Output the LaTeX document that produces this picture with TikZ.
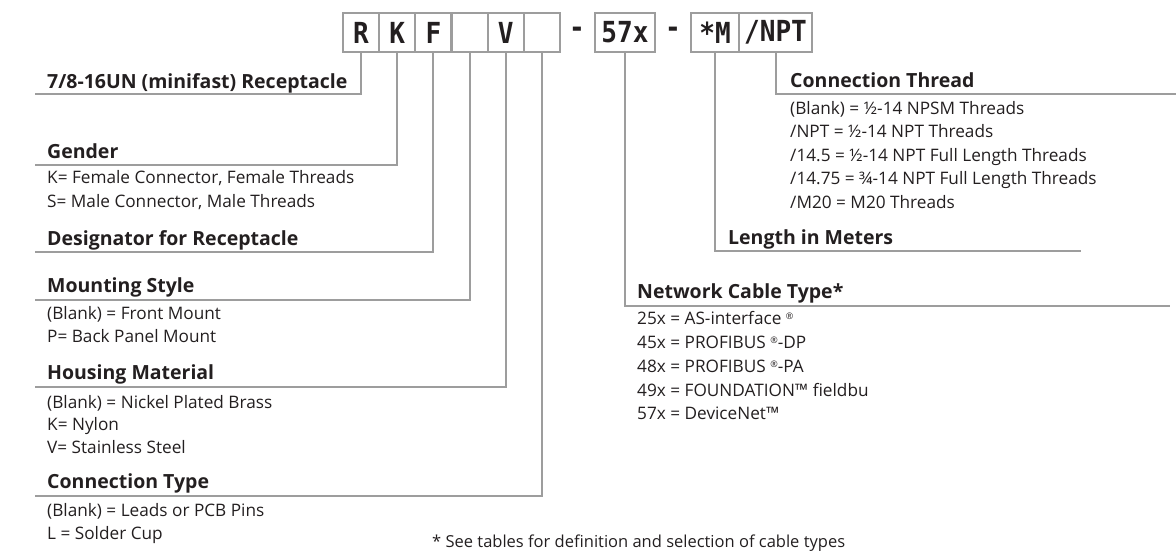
\documentclass[tikz,border=0pt]{standalone}
\usepackage{graphicx}
\usepackage{fontspec}
\setmainfont{Open Sans}
\newfontfamily\boxfont{DejaVu Sans Mono}
\definecolor{lg}{HTML}{9D9D9D}
\definecolor{tx}{HTML}{231F20}
\newcommand{\cellt}[1]{\scalebox{0.9}[1]{#1}}
\newcommand{\regm}{\raisebox{5pt}{\fontsize{9}{9}\selectfont ®}}
\begin{document}
\begin{tikzpicture}[x=1pt,y=-1pt,
  ln/.style={draw=lg, line width=2pt},
  cell/.style={draw=lg, line width=2pt, minimum height=38.4pt, inner sep=0pt,
    font=\boxfont\bfseries\fontsize{29}{29}\selectfont, text=tx},
  hdr/.style={anchor=base west, inner sep=0pt, font=\bfseries\fontsize{19.5}{22}\selectfont, text=tx},
  bd/.style={anchor=base west, inner sep=0pt, font=\fontsize{17.2}{20}\selectfont, text=tx},
  note/.style={anchor=base west, inner sep=0pt, font=\fontsize{16.5}{18}\selectfont, text=tx},
  dsh/.style={inner sep=0pt, font=\boxfont\bfseries\fontsize{29}{29}\selectfont, text=tx}]
\useasboundingbox (0,0) rectangle (1176,552);
% code boxes
\node[cell, minimum width=36.17pt] (R)  at (361.1,32.5) {\cellt{R}};
\node[cell, minimum width=36.17pt] (K)  at (397.3,32.5) {\cellt{K}};
\node[cell, minimum width=36.17pt] (F)  at (433.4,32.5) {\cellt{F}};
\node[cell, minimum width=36.17pt] (B1) at (469.6,32.5) {};
\node[cell, minimum width=36.17pt] (V)  at (505.8,32.5) {\cellt{V}};
\node[cell, minimum width=36.17pt] (B2) at (541.9,32.5) {};
\node[dsh] (d1) at (577,32.5) {\cellt{-}};
\node[cell, minimum width=60pt] (C57) at (625,32.5) {\cellt{57x}};
\node[dsh] (d2) at (673,32.5) {\cellt{-}};
\node[cell, minimum width=48pt] (SM) at (715,32.5) {\cellt{*M}};
\node[cell, minimum width=73pt] (NPT) at (775.5,32.5) {\cellt{/NPT}};
% rule end points
\coordinate (e1) at (35,94);
\coordinate (e2) at (35,165);
\coordinate (e3) at (35,252);
\coordinate (e4) at (35,299.5);
\coordinate (e5) at (35,387);
\coordinate (e6) at (35,495.5);
\coordinate (e7) at (1176,94);
\coordinate (e8) at (1081,251);
\coordinate (e9) at (1170,305.5);
% connectors
\draw[ln] (R.south) |- (e1);
\draw[ln] (K.south) |- (e2);
\draw[ln] (F.south) |- (e3);
\draw[ln] (B1.south) |- (e4);
\draw[ln] (V.south) |- (e5);
\draw[ln] (B2.south) |- (e6);
\draw[ln] (NPT.south) |- (e7);
\draw[ln] (SM.south) |- (e8);
\draw[ln] (C57.south) |- (e9);
% left labels
\node[hdr] (h1) at (47,88) {7/8-16UN (minifast) Receptacle};
\node[hdr] (h2) at (47,158) {Gender};
\node[bd] (g1) at (47,183.5) {K= Female Connector, Female Threads};
\node[bd] (g2) at (47,207.5) {S= Male Connector, Male Threads};
\node[hdr] (h3) at (47,245) {Designator for Receptacle};
\node[hdr] (h4) at (47,292.5) {Mounting Style};
\node[bd] (m1) at (47,319) {(Blank) = Front Mount};
\node[bd] (m2) at (47,342) {P= Back Panel Mount};
\node[hdr] (h5) at (47,379.5) {Housing Material};
\node[bd] (hm1) at (47,408) {(Blank) = Nickel Plated Brass};
\node[bd] (hm2) at (47,430.5) {K= Nylon};
\node[bd] (hm3) at (47,453) {V= Stainless Steel};
\node[hdr] (h6) at (47,488.5) {Connection Type};
\node[bd] (ct1) at (47,516.5) {(Blank) = Leads or PCB Pins};
\node[bd] (ct2) at (47,539.5) {L = Solder Cup};
% right labels
\node[hdr] (h7) at (790,87) {Connection Thread};
\node[bd] (t1) at (790,114) {(Blank) = ½-14 NPSM Threads};
\node[bd] (t2) at (790,137.5) {/NPT = ½-14 NPT Threads};
\node[bd] (t3) at (790,161) {/14.5 = ½-14 NPT Full Length Threads};
\node[bd] (t4) at (790,184.5) {/14.75 = ¾-14 NPT Full Length Threads};
\node[bd] (t5) at (790,208) {/M20 = M20 Threads};
\node[hdr] (h8) at (728,244) {Length in Meters};
\node[hdr] (h9) at (637,298) {Network Cable Type*};
\node[bd] (n1) at (637,324.5) {25x = AS-interface \regm};
\node[bd] (n2) at (637,348) {45x = PROFIBUS \regm-DP};
\node[bd] (n3) at (637,372) {48x = PROFIBUS \regm-PA};
\node[bd] (n4) at (637,396) {49x = FOUNDATION™ fieldbu};
\node[bd] (n5) at (637,419.5) {57x = DeviceNet™};
\node[note] (fn) at (432,547) {* See tables for definition and selection of cable types};
\end{tikzpicture}
\end{document}
